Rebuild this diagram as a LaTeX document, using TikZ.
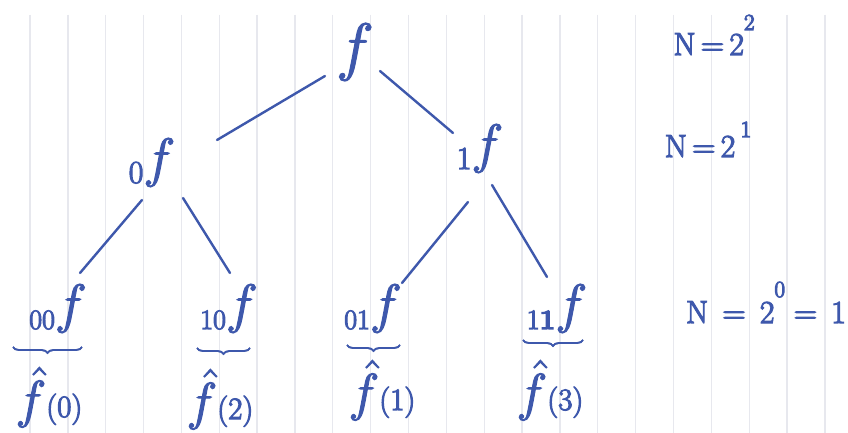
\RequirePackage{fix-cm}
\documentclass[tikz,border=0pt]{standalone}
\usetikzlibrary{calc,decorations.pathreplacing}
\definecolor{ink}{RGB}{62,88,172}
\definecolor{paper}{RGB}{231,232,238}
\pgfdeclarelayer{fg}
\pgfsetlayers{main,fg}
\newcommand{\hwink}[1]{\special{pdf:literal direct 2 Tr}#1\special{pdf:literal direct 0 Tr}}
\newcommand{\hwdig}[1]{{\fontsize{28}{28}\selectfont #1}}
\newcommand{\hwbig}[1]{{\fontsize{32}{32}\selectfont #1}}
\newcommand{\hwf}{\raisebox{7pt}{\fontsize{54}{54}\selectfont$f$}}
\newcommand{\hwhat}[1]{{\fontsize{52}{52}\selectfont$\hat{f}$}{\fontsize{31}{31}\selectfont$(#1)$}}
\newcommand{\hwsup}[2]{\raisebox{#1}{\fontsize{23}{23}\selectfont #2}}
\newcommand{\hwedge}[2]{%
  \fill[ink] ($(#1)!1.2pt!90:(#2)$) -- ($(#2)!1.2pt!-90:(#1)$) -- ($(#2)!1.2pt!90:(#1)$) -- ($(#1)!1.2pt!-90:(#2)$) -- cycle;
  \fill[ink] (#1) circle (1.2pt);
  \fill[ink] (#2) circle (1.2pt);}
\tikzset{
  lbl/.style={anchor=base,inner sep=0pt,text=ink,line width=1.1pt},
  bracelin/.style={draw=ink,line width=1.7pt,decorate,decoration={brace,mirror,amplitude=6pt}},
  nlbl/.style={anchor=base,inner sep=0pt,text=ink,line width=1.1pt,font=\fontsize{32}{32}\selectfont}
}
\begin{document}
\begin{tikzpicture}[x=1pt,y=-1pt]
\useasboundingbox (0,0) rectangle (848,433);
\fill[white] (0,0) rectangle (848,433);
% paper rulings
\foreach \k in {0,...,21}{
  \draw[paper,line width=1.3pt] ({30+37.85*\k},15) -- ({30+37.85*\k},433);
}
% nodes (on the top layer)
\begin{pgfonlayer}{fg}
\node[lbl] (root) at (355,68) {\hwink{{\fontsize{64}{64}\selectfont$f$}}};
\node[lbl] (n0) at (152,183) {\hwink{\hwbig{0}\hwf}};
\node[lbl] (n1) at (480,169) {\hwink{\hwbig{1}\hwf}};
\node[lbl] (l00) at (58,329) {\hwink{\hwdig{00}\hwf}};
\node[lbl] (l10) at (229,329) {\hwink{\hwdig{10}\hwf}};
\node[lbl] (l01) at (373,329) {\hwink{\hwdig{01}\hwf}};
\node[lbl] (l11) at (557,329) {\hwink{\hwdig{1\textbf{1}}\hwf}};
\node[lbl] (h0) at (49,417) {\hwink{\hwhat{0}}};
\node[lbl] (h2) at (220,419) {\hwink{\hwhat{2}}};
\node[lbl] (h1) at (382,410) {\hwink{\hwhat{1}}};
\node[lbl] (h3) at (550,410) {\hwink{\hwhat{3}}};
\node[nlbl] (N2) at (714,55) {\hwink{N\,=\,2\hwsup{25pt}{2}}};
\node[nlbl] (N1) at (708,157) {\hwink{N\,=\,2\,\hwsup{20pt}{1}}};
\node[nlbl] (N0) at (766,323) {\hwink{N\;\,=\;\,2\hwsup{26pt}{0}\;=\;\,1}};
\end{pgfonlayer}
% edge end points, taken from the nodes
\coordinate (e1a) at ($(root.base)+(-30,8)$);
\coordinate (e1b) at ($(n0.base)+(65,-43)$);
\coordinate (e2a) at ($(root.base)+(25,3)$);
\coordinate (e2b) at ($(n1.base)+(-27,-36)$);
\coordinate (e3a) at ($(n0.base)+(-10,17)$);
\coordinate (e3b) at ($(l00.base)+(22,-56)$);
\coordinate (e4a) at ($(n0.base)+(31,15)$);
\coordinate (e4b) at ($(l10.base)+(1,-56)$);
\coordinate (e5a) at ($(n1.base)+(-12,33)$);
\coordinate (e5b) at ($(l01.base)+(29,-46)$);
\coordinate (e6a) at ($(n1.base)+(12,16)$);
\coordinate (e6b) at ($(l11.base)+(-10,-52)$);
% edges
\hwedge{e1a}{e1b}
\hwedge{e2a}{e2b}
\hwedge{e3a}{e3b}
\hwedge{e4a}{e4b}
\hwedge{e5a}{e5b}
\hwedge{e6a}{e6b}
% braces
\foreach \s in {0pt,0.8pt}{
\draw[bracelin,yshift=\s] ($(l00.base)+(-45,18)$) -- ($(l00.base)+(24,18)$);
\draw[bracelin,yshift=\s] ($(l10.base)+(-32,19)$) -- ($(l10.base)+(21,19)$);
\draw[bracelin,yshift=\s] ($(l01.base)+(-26,16)$) -- ($(l01.base)+(27,16)$);
\draw[bracelin,yshift=\s] ($(l11.base)+(-34,11)$) -- ($(l11.base)+(26,11)$);
}
\end{tikzpicture}
\end{document}
